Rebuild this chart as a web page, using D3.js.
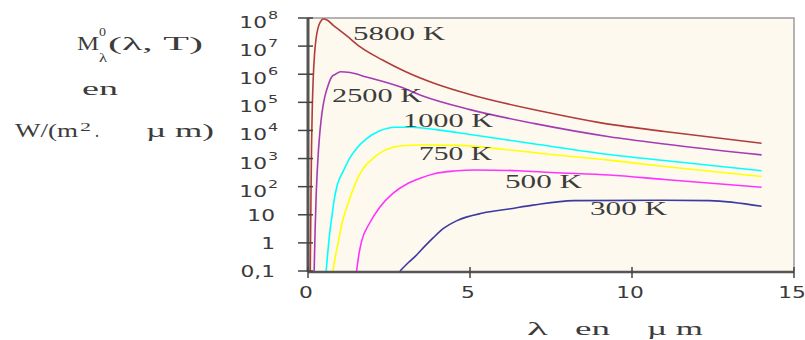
<!DOCTYPE html>
<html>
<head>
<meta charset="utf-8">
<script src="https://cdn.jsdelivr.net/npm/d3@7"></script>
<style>
  body { margin: 0; background: #fff; }
  svg { display: block; }
  .serif { font-family: 'Liberation Serif', 'Times New Roman', serif; fill: #3c3c3c; }
  .sans { font-family: 'DejaVu Sans', Verdana, sans-serif; fill: #3a3a3a; }
</style>
</head>
<body>
<div id="app"></div>
<script>
// wavelength (µm) and exitance W/(m2.µm), one list per temperature
const t5800 = [[0.07, 0.1], [0.09, 30], [0.11, 3e3], [0.13, 5e4], [0.16, 6.6e5], [0.2, 4.8e6], [0.25, 1.9e7], [0.3, 4e7], [0.38, 7.2e7], [0.47, 9.2e7], [0.6, 8.3e7], [0.77, 5.6e7], [1, 3.5e7], [1.2, 2.3e7], [1.6, 9.6e6], [2.3, 3.2e6], [3, 1.25e6], [4, 4.3e5], [5, 1.9e5], [7.25, 4.7e4], [9, 1.9e4], [11, 9.2e3], [14, 3.5e3]];
const t2500 = [[0.19, 0.1], [0.22, 3], [0.25, 40], [0.3, 720], [0.35, 5.2e3], [0.4, 2.1e4], [0.46, 7e4], [0.52, 1.6e5], [0.6, 3.4e5], [0.73, 8e5], [0.85, 1.0e6], [1.0, 1.23e6], [1.3, 1.15e6], [1.8, 8e5], [2.84, 3.6e5], [3.5, 1.75e5], [5, 5.5e4], [7, 1.75e4], [9.3, 6e3], [11, 3.3e3], [14, 1.35e3]];
const t1000 = [[0.56, 0.1], [0.62, 0.6], [0.68, 2.8], [0.74, 9], [0.8, 30], [0.9, 110], [1.1, 380], [1.3, 1100], [1.5, 2300], [1.8, 5000], [2.2, 9500], [2.7, 1.3e4], [3.2, 1.3e4], [4, 1.05e4], [5, 7.2e3], [7, 3.3e3], [9.3, 1.4e3], [11, 850], [14, 370]];
const t750 = [[0.77, 0.1], [0.85, 0.35], [0.93, 1], [1.05, 5], [1.2, 19], [1.35, 60], [1.55, 220], [1.75, 520], [2, 1000], [2.3, 1800], [2.62, 2500], [3, 2900], [3.5, 3050], [4.7, 2950], [6, 2150], [7.5, 1400], [9.3, 880], [11, 520], [14, 230]];
const t500 = [[1.5, 0.1], [1.58, 0.45], [1.66, 1.2], [1.9, 5], [2.22, 19], [2.62, 58], [3.05, 125], [3.46, 200], [3.9, 290], [4.5, 360], [5.2, 390], [6.5, 370], [7.5, 320], [9.3, 260], [11, 180], [14, 95]];
const t300 = [[2.84, 0.1], [3.1, 0.2], [3.36, 0.38], [3.6, 0.75], [3.86, 1.5], [4.17, 3.2], [4.6, 6.2], [5.4, 11.5], [6.2, 16], [6.94, 22], [8.2, 32], [11, 33], [12.4, 32], [14, 20]];

const curveLabels = ['5800 K', '2500 K', '1000 K', '750 K', '500 K', '300 K'];
const curveColors = ['#b03c3c', '#a43cb4', '#00ffff', '#ffff00', '#ff33ff', '#3a3aa0'];

const xTickValues = [0, 5, 10, 15];
const xTickLabels = ['0', '5', '10', '15'];
const yTickValues = [0.1, 1, 10, 1e2, 1e3, 1e4, 1e5, 1e6, 1e7, 1e8];
const yTickBases = ['0,1', '1', '10', '10', '10', '10', '10', '10', '10', '10'];
const yTickExps = ['', '', '', '2', '3', '4', '5', '6', '7', '8'];

const W = 805, H = 340;
const plotLeft = 308, plotRight = 794, plotTop = 18, plotBottom = 271;

const svg = d3.select('div#app')
	.append('svg')
	.attr('width', W)
	.attr('height', H);

const x = d3.scaleLinear().domain([0, 15]).range([plotLeft, plotRight]);
const y = d3.scaleLog().domain([0.1, 1e8]).range([plotBottom, plotTop]);

// plot area
svg.append('rect')
	.attr('x', plotLeft).attr('y', plotTop)
	.attr('width', plotRight - plotLeft).attr('height', plotBottom - plotTop)
	.attr('fill', '#fef9ef');

svg.append('path')
	.attr('d', `M${plotLeft},${plotTop}H${plotRight}V${plotBottom}`)
	.attr('fill', 'none')
	.attr('stroke', '#9c9c9c')
	.attr('stroke-width', 1.5);

svg.append('clipPath').attr('id', 'clip')
	.append('rect')
	.attr('x', plotLeft).attr('y', plotTop - 2)
	.attr('width', plotRight - plotLeft).attr('height', plotBottom - plotTop + 2);

// curves
const series = [t5800, t2500, t1000, t750, t500, t300];
const line = d3.line()
	.x((d) => x(d[0]))
	.y((d) => y(d[1]))
	.curve(d3.curveMonotoneX);

svg.append('g')
	.attr('clip-path', 'url(#clip)')
	.selectAll('path')
	.data(series)
	.join('path')
	.attr('d', line)
	.attr('fill', 'none')
	.attr('stroke', (d, i) => curveColors[i])
	.attr('stroke-width', 1.6);

// axes lines
svg.append('line')
	.attr('x1', plotLeft).attr('x2', plotLeft)
	.attr('y1', plotTop).attr('y2', plotBottom + 1)
	.attr('stroke', '#555').attr('stroke-width', 3);
svg.append('line')
	.attr('x1', plotLeft).attr('x2', plotRight)
	.attr('y1', plotBottom + 1).attr('y2', plotBottom + 1)
	.attr('stroke', '#555').attr('stroke-width', 2.5);

// y ticks
svg.append('g')
	.selectAll('line')
	.data(yTickValues)
	.join('line')
	.attr('x1', 298).attr('x2', 313)
	.attr('y1', (d) => y(d)).attr('y2', (d) => y(d))
	.attr('stroke', '#444').attr('stroke-width', 1.5);

// x ticks
svg.append('g')
	.selectAll('line')
	.data(xTickValues)
	.join('line')
	.attr('x1', (d) => x(d)).attr('x2', (d) => x(d))
	.attr('y1', 267).attr('y2', 278)
	.attr('stroke', '#444').attr('stroke-width', 1.5);

// stretched text helper (the picture is widened horizontally)
const stretched = (g, cls, size, sx, px, py, anchor, str) =>
	g.append('text')
		.attr('class', cls)
		.attr('font-size', size)
		.attr('text-anchor', anchor)
		.attr('transform', `translate(${px},${py}) scale(${sx},1)`)
		.text(str);

const yLab = svg.append('g');
yTickValues.forEach((v, i) => {
	const ty = y(v);
	if (yTickExps[i]) {
		stretched(yLab, 'sans', 15, 1.45, 267, ty + 10, 'end', yTickBases[i]);
		stretched(yLab, 'sans', 11, 1.45, 268, ty + 1, 'start', yTickExps[i]);
	} else {
		stretched(yLab, 'sans', 15, 1.45, 275, ty + 6, 'end', yTickBases[i]);
	}
});

const xLab = svg.append('g');
xTickValues.forEach((v, i) => {
	stretched(xLab, 'sans', 15, 1.45, x(v) - 2, 298, 'middle', xTickLabels[i]);
});

// fixed-width serif text
const fitted = (str, px, py, size, len) =>
	svg.append('text')
		.attr('class', 'serif')
		.attr('x', px).attr('y', py)
		.attr('font-size', size)
		.attr('textLength', len)
		.attr('lengthAdjust', 'spacingAndGlyphs')
		.text(str);

// curve labels
const labelPos = [[353, 40, 92], [332, 102, 90], [403, 127, 90], [419, 160, 73], [505, 188, 77], [590, 215, 77]];
curveLabels.forEach((s, i) => fitted(s, labelPos[i][0], labelPos[i][1], 18, labelPos[i][2]));

// y axis title
fitted('M', 77, 50, 19, 22);
fitted('0', 99, 36, 12, 7);
fitted('λ', 99, 62, 12, 8);
fitted('(λ, T)', 108, 50, 18, 95);
fitted('en', 82, 95, 18, 36);
fitted('W/(m', 15, 137, 18, 63);
fitted('2', 80, 131, 13, 11);
fitted('.', 95, 137, 18, 4);
fitted('µ m)', 146, 137, 18, 68);

// x axis title
fitted('λ', 527, 335, 18, 21);
fitted('en', 575, 335, 18, 35);
fitted('µ m', 647, 335, 18, 56);
</script>
</body>
</html>
